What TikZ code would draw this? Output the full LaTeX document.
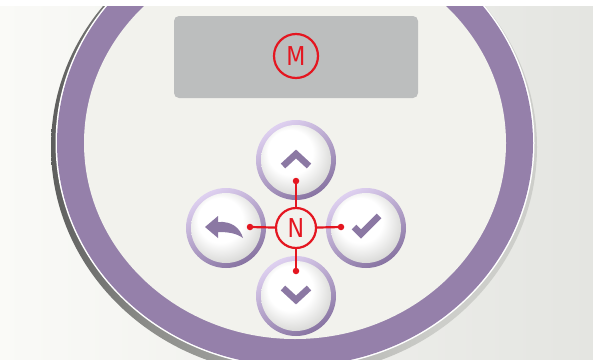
\documentclass[tikz,border=0pt]{standalone}
\usepackage{fontspec}
\setmainfont{DejaVu Sans}
\usepackage{graphicx}
\definecolor{purpleRing}{RGB}{149,128,170}
\definecolor{iconc}{RGB}{139,120,163}
\definecolor{discIn}{RGB}{242,242,237}
\definecolor{displayc}{RGB}{188,190,190}
\definecolor{redm}{RGB}{228,22,32}
\definecolor{rimLight}{RGB}{222,208,240}
\definecolor{rimDark}{RGB}{136,116,162}
\definecolor{faceOut}{RGB}{214,214,212}
\definecolor{bgL}{RGB}{250,250,247}
\definecolor{bgR}{RGB}{228,229,225}
\definecolor{edgeA}{RGB}{70,70,70}
\definecolor{edgeM}{RGB}{140,141,138}
\definecolor{edgeB}{RGB}{205,206,202}
\pgfdeclareradialshading{facesh}{\pgfpoint{-6bp}{8bp}}{color(0bp)=(white); color(16bp)=(white); color(30bp)=(faceOut); color(50bp)=(faceOut)}
\pgfdeclarehorizontalshading{edgesh}{100bp}{color(0bp)=(edgeA); color(20bp)=(edgeA); color(35bp)=(edgeM); color(65bp)=(edgeB); color(100bp)=(edgeB)}
\tikzset{
  rim/.style={circle, minimum size=80pt, inner sep=0pt, top color=rimLight, bottom color=rimDark, shading angle=30},
  face/.style={circle, minimum size=70pt, inner sep=0pt, shade, shading=facesh},
  ico/.style={draw=iconc, line width=6.5pt, line join=miter, line cap=butt},
  redc/.style={circle, draw=redm, line width=2.2pt, text=redm, inner sep=0pt},
  reddot/.style={circle, fill=redm, inner sep=0pt, minimum size=6.5pt},
  wire/.style={draw=redm, line width=2.2pt}
}
\begin{document}
\begin{tikzpicture}[x=1pt,y=-1pt]
\useasboundingbox (0,0) rectangle (593,359);
% background
\shade[left color=bgL, right color=bgR] (0,0) rectangle (593,359);
% disc edge, ring, face
\shade[shading=edgesh] (294,147) ellipse [x radius=243pt, y radius=228pt];
\fill[white] (295,143) ellipse [x radius=239.5pt, y radius=224.5pt];
\fill[purpleRing] (295,143) ellipse [x radius=238pt, y radius=223pt];
\fill[discIn] (295,143) ellipse [x radius=211pt, y radius=196pt];
\fill[white] (0,0) rectangle (593,5.5);
% display
\fill[displayc, rounded corners=5pt] (174,16) rectangle (418,98);
% buttons
\node[rim] (upR) at (296,160) {};
\node[face] (up) at (296,160) {};
\node[rim] (backR) at (226,228) {};
\node[face] (back) at (226,228) {};
\node[rim] (okR) at (366,228) {};
\node[face] (ok) at (366,228) {};
\node[rim] (downR) at (296,296) {};
\node[face] (down) at (296,296) {};
% icons
\begin{scope}[shift={(up.center)}]
  \draw[ico] (-13,6) -- (0,-6) -- (13,6);
\end{scope}
\begin{scope}[shift={(down.center)}]
  \draw[ico] (-13,-8) -- (0,4) -- (13,-8);
\end{scope}
\begin{scope}[shift={(ok.center)}]
  \draw[ico] (-12,-1) -- (-5,6) -- (13,-12);
\end{scope}
\begin{scope}[shift={(back.center)}]
  \fill[iconc] (-21,-1) -- (-8,-12) -- (-8,-6)
     .. controls (6,-7) and (14,0) .. (17,10)
     .. controls (10,5) and (2,4) .. (-8,4)
     -- (-8,10) -- cycle;
\end{scope}
% red annotations
\node[redc, minimum size=44pt] (M) at (296,56) {\fontsize{26}{26}\selectfont\scalebox{0.85}[1]{M}};
\node[redc, minimum size=40pt] (N) at (296,228) {\fontsize{26}{26}\selectfont\scalebox{0.85}[1]{N}};
\node[reddot] (dU) at (296,181) {};
\node[reddot] (dL) at (250,227) {};
\node[reddot] (dR) at (341,227) {};
\node[reddot] (dD) at (296,271) {};
\draw[wire] (N) -- (dU.center);
\draw[wire] (N) -- (dL.center);
\draw[wire] (N) -- (dR.center);
\draw[wire] (N) -- (dD.center);
\end{tikzpicture}
\end{document}
